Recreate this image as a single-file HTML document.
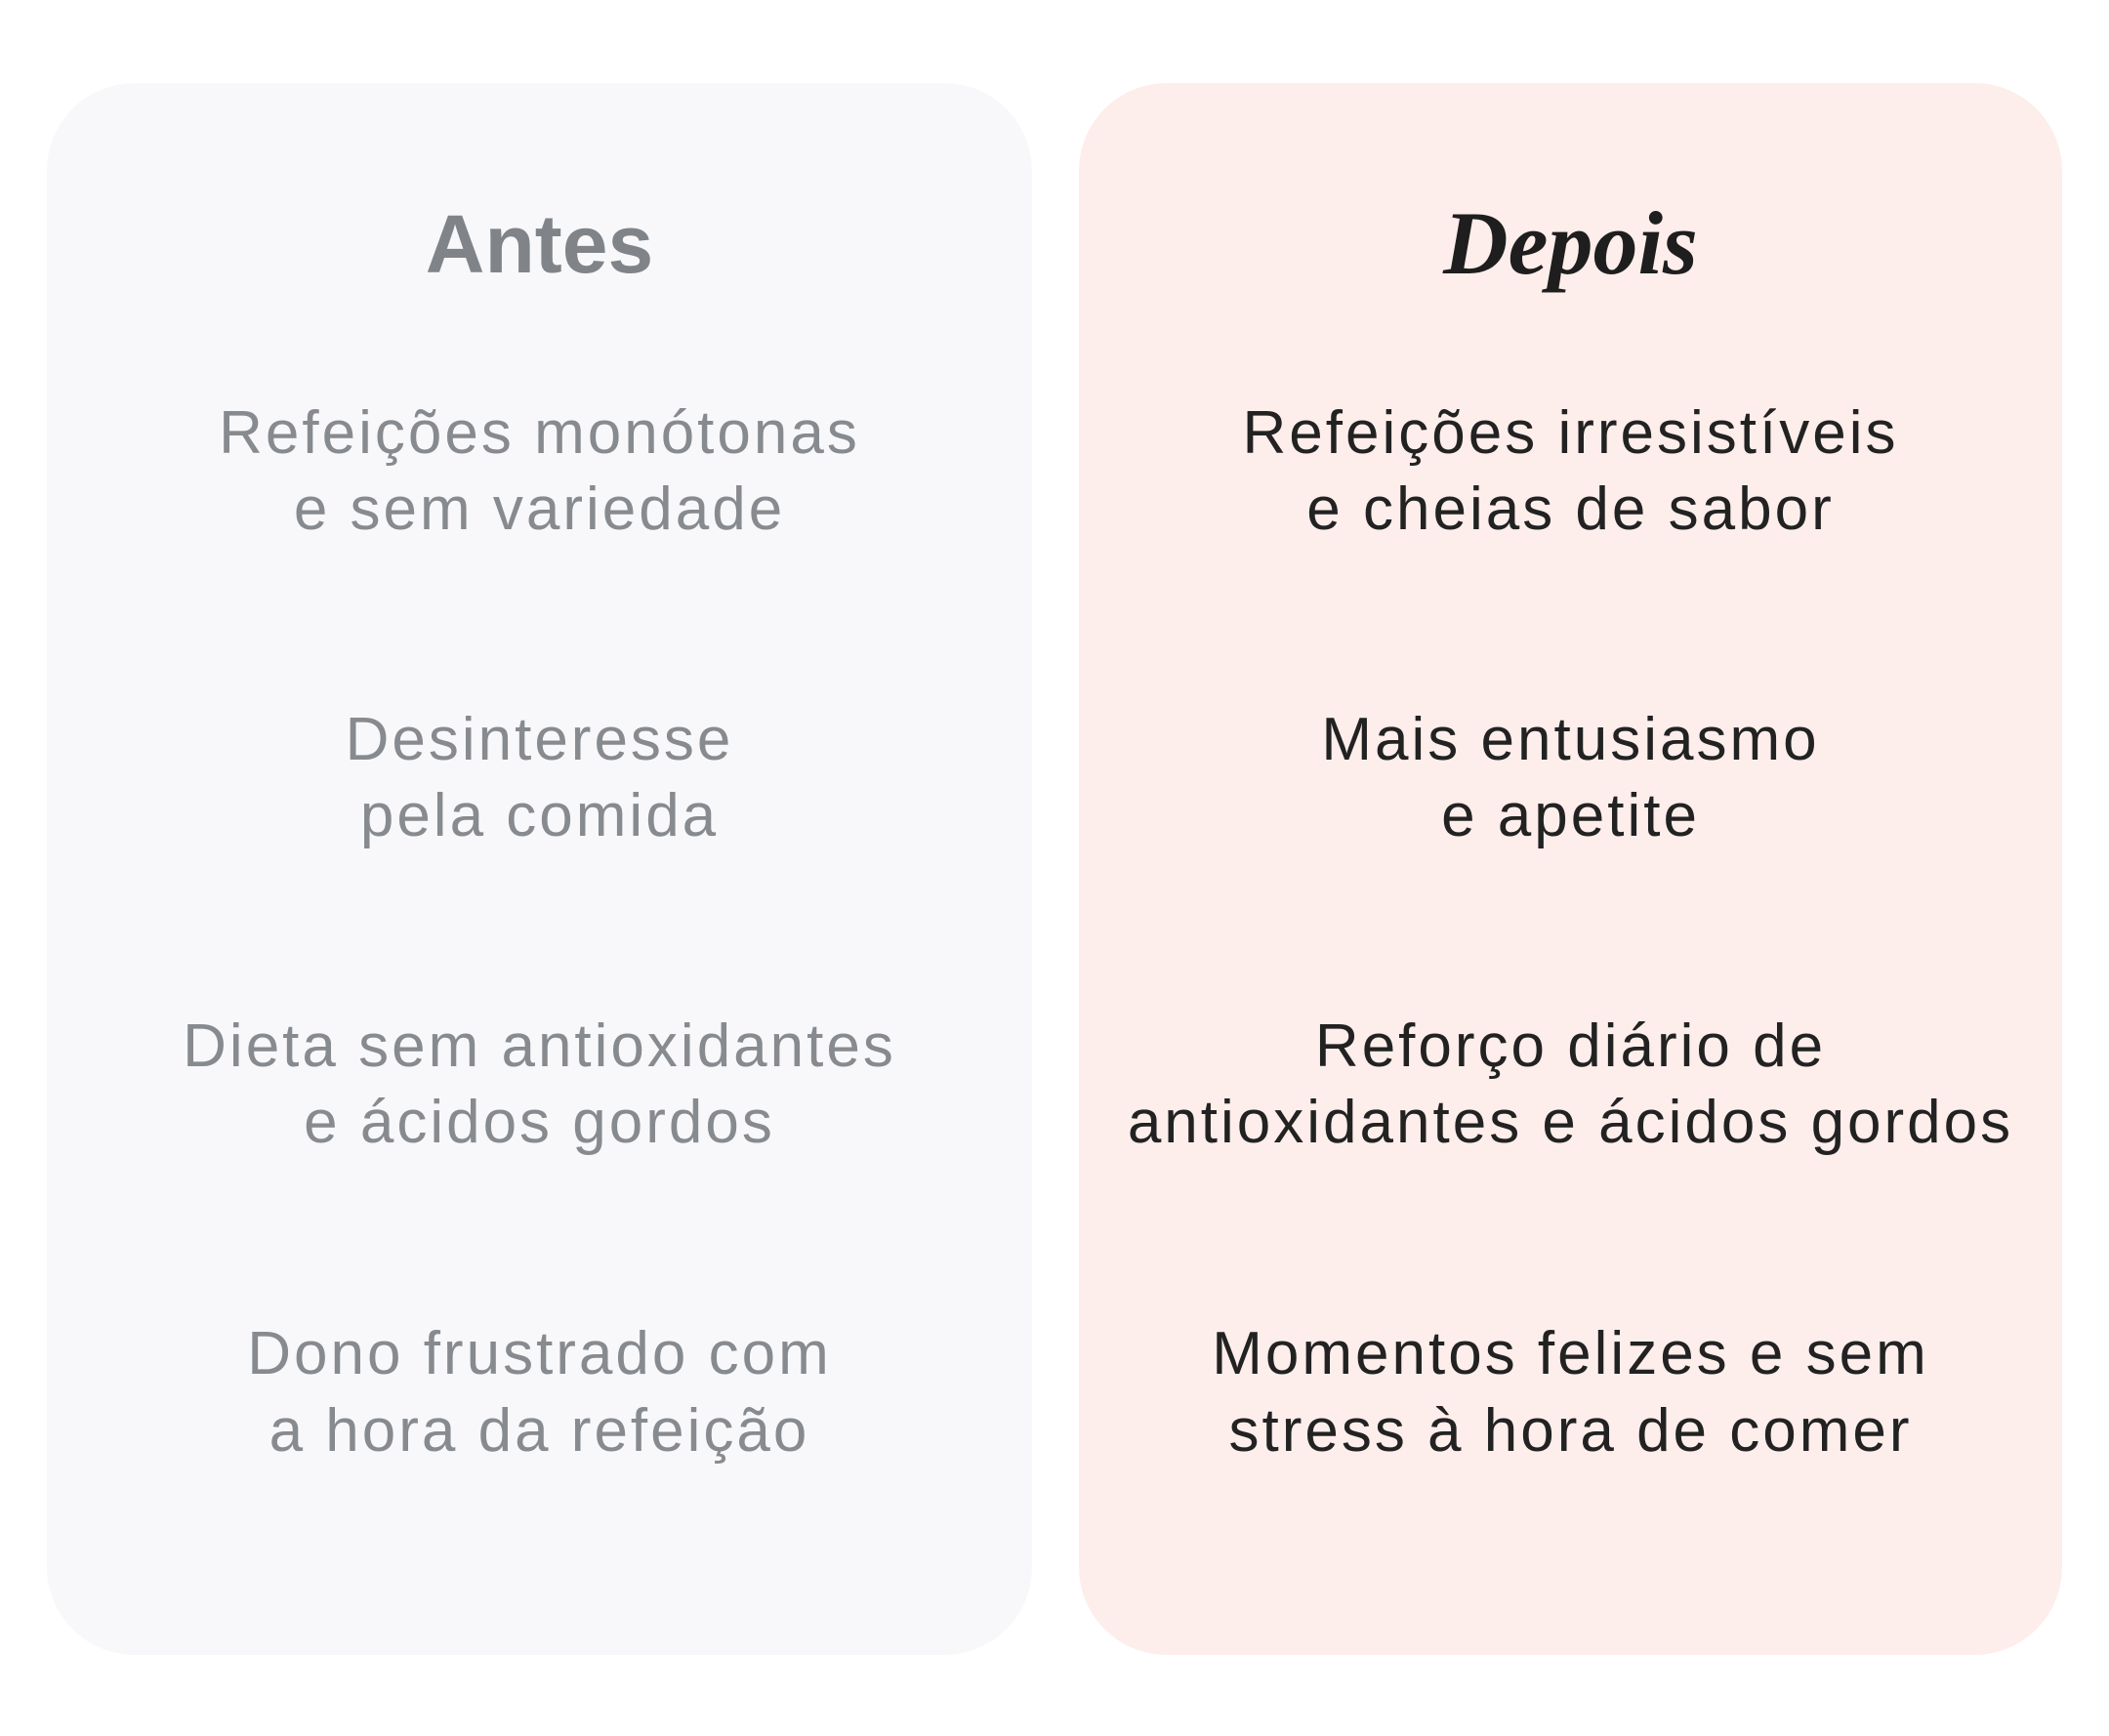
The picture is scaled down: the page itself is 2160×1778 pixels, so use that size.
<!DOCTYPE html>
<html><head><meta charset="utf-8"><style>
html,body{margin:0;padding:0;background:#fff;width:2160px;height:1778px;overflow:hidden}
.p{position:absolute;top:85px;height:1610px;border-radius:90px}
.l{left:48px;width:1009px;background:#f8f8fa}
.r{left:1105px;width:1007px;background:#fdeeeb}
.t{position:absolute;left:0;width:100%;text-align:center;white-space:nowrap;line-height:1}
.b{font-family:"Liberation Sans",sans-serif;font-size:62px;letter-spacing:3px}
.l .b{color:#878a8f}
.r .b{color:#222}
</style></head><body>
<div class="p l">
<div class="t" style="top:123px;font-family:'Liberation Sans',sans-serif;font-weight:bold;font-size:84px;color:#808489">Antes</div>
<div class="t b" style="top:328px">Refeições monótonas</div>
<div class="t b" style="top:406px">e sem variedade</div>
<div class="t b" style="top:642px">Desinteresse</div>
<div class="t b" style="top:720px">pela comida</div>
<div class="t b" style="top:956px">Dieta sem antioxidantes</div>
<div class="t b" style="top:1034px">e ácidos gordos</div>
<div class="t b" style="top:1271px">Dono frustrado com</div>
<div class="t b" style="top:1350px">a hora da refeição</div>
</div>
<div class="p r">
<div class="t" style="top:118px;font-family:'Liberation Serif',serif;font-weight:bold;font-style:italic;font-size:92px;color:#1e1e1e">Depois</div>
<div class="t b" style="top:328px">Refeições irresistíveis</div>
<div class="t b" style="top:406px">e cheias de sabor</div>
<div class="t b" style="top:642px">Mais entusiasmo</div>
<div class="t b" style="top:720px">e apetite</div>
<div class="t b" style="top:956px">Reforço diário de</div>
<div class="t b" style="top:1034px">antioxidantes e ácidos gordos</div>
<div class="t b" style="top:1271px">Momentos felizes e sem</div>
<div class="t b" style="top:1350px">stress à hora de comer</div>
</div>
</body></html>
